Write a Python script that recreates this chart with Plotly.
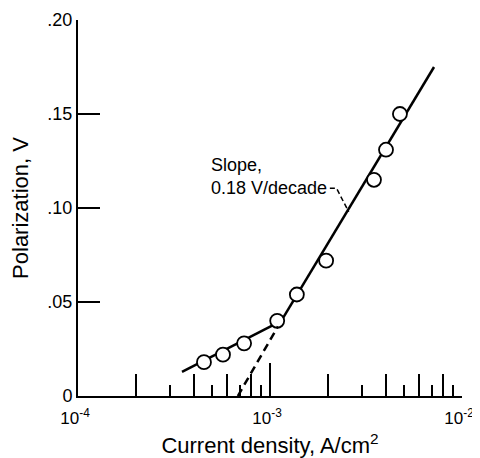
import plotly.graph_objects as go

# measured points (current density A/cm2, polarization V)
current = [4.53e-4, 5.69e-4, 7.33e-4, 1.09e-3, 1.38e-3, 1.96e-3, 3.48e-3, 4.02e-3, 4.75e-3]
polarization = [0.018, 0.022, 0.028, 0.040, 0.054, 0.072, 0.115, 0.131, 0.150]

# low current line
low_x = [3.48e-4, 1.10e-3]
low_y = [0.0128, 0.039]

# Tafel line: dashed extrapolation then solid part
tafel_dash_x = [6.8e-4, 1.10e-3]
tafel_dash_y = [0.0, 0.037]
tafel_x = [1.10e-3, 7.15e-3]
tafel_y = [0.037, 0.175]

# leader from the slope label
leader_x = [2.05e-3, 2.22e-3, 2.57e-3]
leader_y = [0.1105, 0.1105, 0.098]

decades = [1e-4, 1e-3, 1e-2]
decade_text = ["10<sup>-4</sup>", "10<sup>-3</sup>", "10<sup>-2</sup>"]
even_ticks = [2e-4, 4e-4, 6e-4, 8e-4, 2e-3, 4e-3, 6e-3, 8e-3]
odd_ticks = [3e-4, 5e-4, 7e-4, 9e-4, 3e-3, 5e-3, 7e-3, 9e-3]
y_ticks = [0, 0.05, 0.10, 0.15, 0.20]
y_text = ["0", ".05", ".10", ".15", ".20"]

FONT = "Liberation Sans, Arial, sans-serif"

fig = go.Figure()
fig.add_trace(go.Scatter(x=low_x, y=low_y, mode="lines",
                         line=dict(color="black", width=2.5), showlegend=False))
fig.add_trace(go.Scatter(x=tafel_dash_x, y=tafel_dash_y, mode="lines", xaxis="x2",
                         line=dict(color="black", width=2.5, dash="8px,5px"), showlegend=False))
fig.add_trace(go.Scatter(x=tafel_x, y=tafel_y, mode="lines",
                         line=dict(color="black", width=2.5), showlegend=False))
fig.add_trace(go.Scatter(x=leader_x, y=leader_y, mode="lines",
                         line=dict(color="black", width=1.5, dash="5px,3px"), showlegend=False))
fig.add_trace(go.Scatter(x=current, y=polarization, mode="markers",
                         marker=dict(symbol="circle", size=14, color="white",
                                     line=dict(color="black", width=1.8)),
                         showlegend=False))

# annotation x is log10 on a log axis
fig.add_annotation(x=-3.32, y=0.1168, xref="x", yref="y", text="Slope,<br>0.18 V/decade",
                   showarrow=False, xanchor="left", yanchor="middle", align="left",
                   font=dict(family=FONT, size=18, color="black"))

# page body adds an 8px margin top/left, so the figure is 8px smaller
fig.update_layout(
    width=472, height=450,
    margin=dict(l=70, r=18, t=12, b=62),
    paper_bgcolor="white", plot_bgcolor="white",
    font=dict(family=FONT, size=18, color="black"),
    xaxis=dict(type="log", range=[-4, -2], showgrid=False, zeroline=False,
               automargin=False,
               showline=True, linecolor="black", linewidth=2,
               ticks="inside", ticklen=22, tickwidth=1.5, tickcolor="black",
               tickvals=decades + even_ticks,
               ticktext=decade_text + [""] * len(even_ticks),
               tickfont=dict(size=17),
               ticklabelstandoff=6, ticklabelshift=-3, ticklabeloverflow="allow",
               minor=dict(tickvals=odd_ticks, ticks="inside", ticklen=11,
                          tickwidth=1.5, tickcolor="black", showgrid=False),
               title=dict(text="Current density, A/cm<sup>2</sup>", standoff=18)),
    xaxis2=dict(type="log", range=[-4, -2], overlaying="x", anchor="y",
                automargin=False,
                showgrid=False, zeroline=False, showline=False,
                ticks="inside", ticklen=33, tickwidth=1.5, tickcolor="black",
                tickvals=decades, showticklabels=False),
    yaxis=dict(range=[0, 0.20], showgrid=False, zeroline=False,
               automargin=False,
               showline=True, linecolor="black", linewidth=2,
               ticks="inside", ticklen=22, tickwidth=1.5, tickcolor="black",
               tickvals=y_ticks, ticktext=y_text,
               title=dict(text="Polarization, V", standoff=14)),
)

fig.write_html("out.html")
